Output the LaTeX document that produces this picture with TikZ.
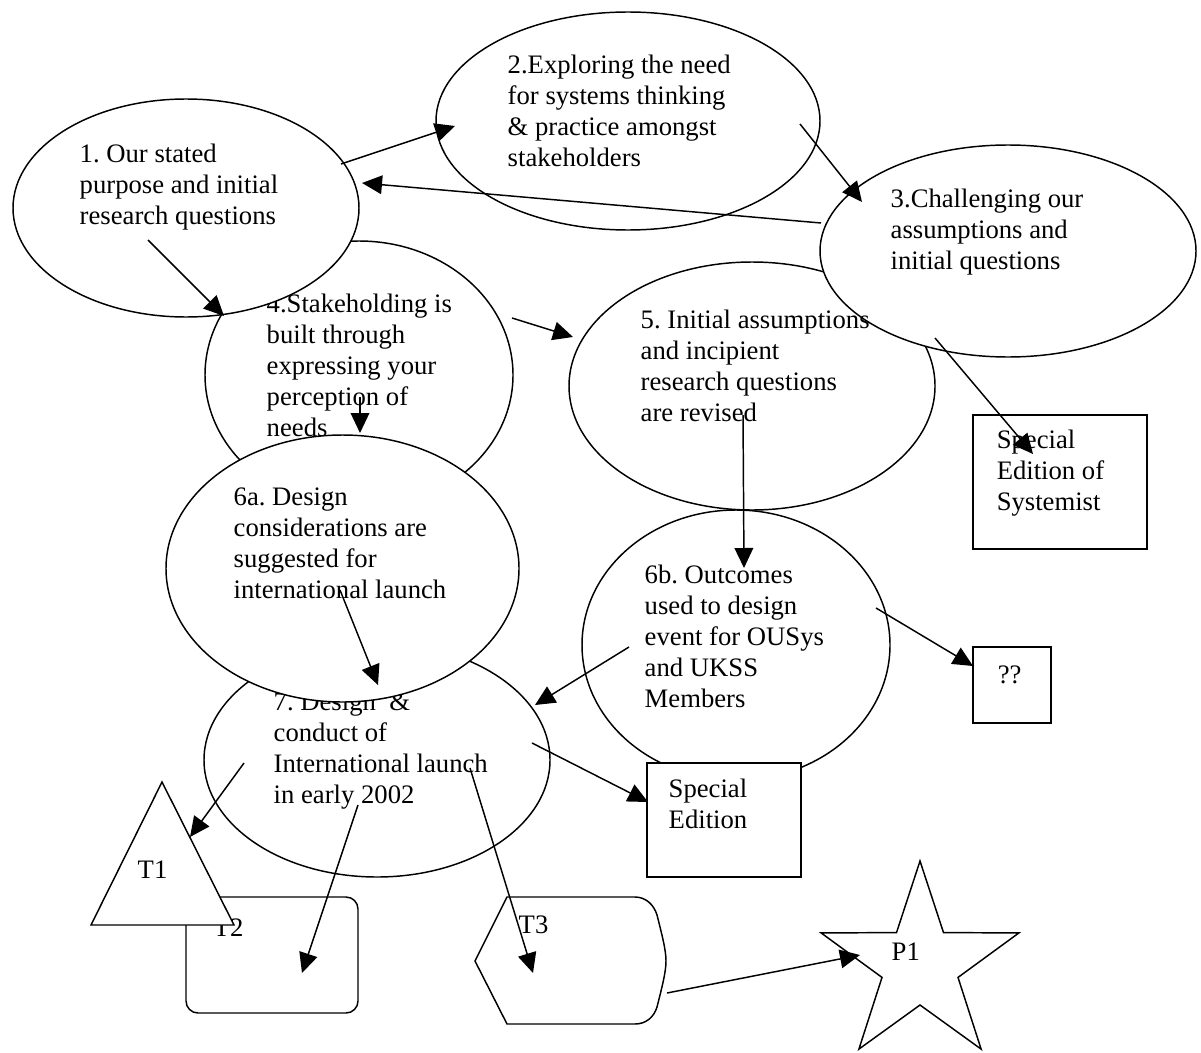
\documentclass[tikz,border=0pt]{standalone}
\usepackage{fontspec}
\setmainfont{Liberation Serif}
\usetikzlibrary{arrows.meta,shapes.geometric}
\frenchspacing
\newcommand\blk[1]{\begin{tabular}[t]{@{}l@{}}#1\end{tabular}}
\begin{document}
\begin{tikzpicture}[x=0.75pt,y=-0.75pt,line width=1.1pt,
  shp/.style={draw,fill=white,line width=1.1pt},
  ell/.style={shp,ellipse,inner sep=0pt},
  boxn/.style={shp,rectangle,inner sep=0pt},
  txt/.style={anchor=base west,inner sep=0pt,font=\fontsize{20}{23.25}\selectfont},
  arr/.style={-{Triangle[length=15pt,width=14pt]},line width=1.1pt}]
\useasboundingbox (0,0) rectangle (1201,1052);
% ellipse 4 and 1
\node[ell,minimum width=231pt,minimum height=201pt] (e4) at (359,375) {};
\node[txt] (t4) at (266,312) {\blk{4.Stakeholding is\\built through\\expressing your\\perception of\\needs}};
\node[ell,minimum width=259.5pt,minimum height=163.5pt] (e1) at (186,208) {};
\node[txt] (t1) at (79,162) {\blk{1. Our stated\\purpose and initial\\research questions}};
\node[ell,minimum width=288pt,minimum height=163.5pt] (e2) at (628,121) {};
\node[txt] (t2) at (507,74) {\blk{2.Exploring the need\\for systems thinking\\\& practice amongst\\stakeholders}};
\node[ell,minimum width=274.5pt,minimum height=186pt] (e5) at (752,386) {};
\node[ell,minimum width=282pt,minimum height=159pt] (e3) at (1008,251) {};
\node[txt] (t3) at (890,207) {\blk{3.Challenging our\\assumptions and\\initial questions}};
\node[txt] (t5) at (640,328) {\blk{5. Initial assumptions\\and incipient\\research questions\\are revised}};
\node[ell,minimum width=259.5pt,minimum height=175.5pt] (e7) at (377,760) {};
\node[txt] (t7) at (273,710) {\blk{7. Design \ \&\\conduct of\\International launch\\in early 2002}};
\node[ell,minimum width=264.75pt,minimum height=200.25pt] (e6a) at (342.5,568.5) {};
\node[txt] (t6a) at (233,505) {\blk{6a. Design\\considerations are\\suggested for\\international launch}};
\node[ell,minimum width=231pt,minimum height=202.5pt] (e6b) at (736,645) {};
\node[txt] (t6b) at (644,583) {\blk{6b. Outcomes\\used to design\\event for OUSys\\and UKSS\\Members}};
% boxes
\node[boxn,minimum width=130.5pt,minimum height=100.5pt] (b1) at (1060,482) {};
\node[txt] (tb1) at (996,448) {\blk{Special\\Edition of\\Systemist}};
\node[boxn,minimum width=58.5pt,minimum height=57pt] (b2) at (1012,685) {};
\node[txt] (tb2) at (997,683) {??};
\node[boxn,minimum width=115.5pt,minimum height=85.5pt] (b3) at (724,820) {};
\node[txt] (tb3) at (668,797) {\blk{Special\\Edition}};
% T2 rounded rectangle
\node[boxn,rounded corners=9pt,minimum width=129pt,minimum height=87pt] (r2) at (272,955) {};
\node[txt] (tt2) at (213,936) {T2};
% triangle T1
\draw[shp] (162,782) -- (234,925) -- (91,925) -- cycle;
\node[txt] (tt1) at (137,878) {T1};
% T3 shape
\draw[shp] (507,897) -- (635,897) .. controls (646,897) and (654,905) .. (657,915)
  .. controls (662,935) and (666,950) .. (666,961)
  .. controls (666,972) and (662,987) .. (657,1007)
  .. controls (654,1017) and (646,1024) .. (635,1024)
  -- (507,1024) -- (475,961) -- cycle;
\node[txt] (tt3) at (518,933) {T3};
% star P1
\draw[shp] (920,861) -- (943.5,932.6) -- (1018.9,932.9) -- (958,977.4) -- (981.1,1049.1)
  -- (920,1005) -- (858.9,1049.1) -- (882,977.4) -- (821.1,932.9) -- (896.5,932.6) -- cycle;
\node[txt] (tp1) at (891,960) {P1};
% connector end points
\coordinate (a1s) at (341,164);  \coordinate (a1e) at (455,126);
\coordinate (a2s) at (821,223);  \coordinate (a2e) at (362,183);
\coordinate (a3s) at (800,124);  \coordinate (a3e) at (862,202);
\coordinate (a4s) at (148,240);  \coordinate (a4e) at (224,316);
\coordinate (a5s) at (512,318);  \coordinate (a5e) at (573,337);
\coordinate (a6s) at (360,397);  \coordinate (a6e) at (360,433);
\coordinate (a7s) at (743,415);  \coordinate (a7e) at (744,568);
\coordinate (a8s) at (935,338);  \coordinate (a8e) at (1033,454);
\coordinate (a9s) at (876,608);  \coordinate (a9e) at (973,666);
\coordinate (a10s) at (629,647); \coordinate (a10e) at (535,705);
\coordinate (a11s) at (532,743); \coordinate (a11e) at (648,802);
\coordinate (a12s) at (340,590); \coordinate (a12e) at (378,685);
\coordinate (a13s) at (244,763); \coordinate (a13e) at (190,837);
\coordinate (a14s) at (358,805); \coordinate (a14e) at (302,973);
\coordinate (a15s) at (470,768); \coordinate (a15e) at (533,973);
\coordinate (a16s) at (667,993); \coordinate (a16e) at (860,955);
\foreach \i in {1,...,16} {\draw[arr] (a\i s) -- (a\i e);}
\end{tikzpicture}
\end{document}
